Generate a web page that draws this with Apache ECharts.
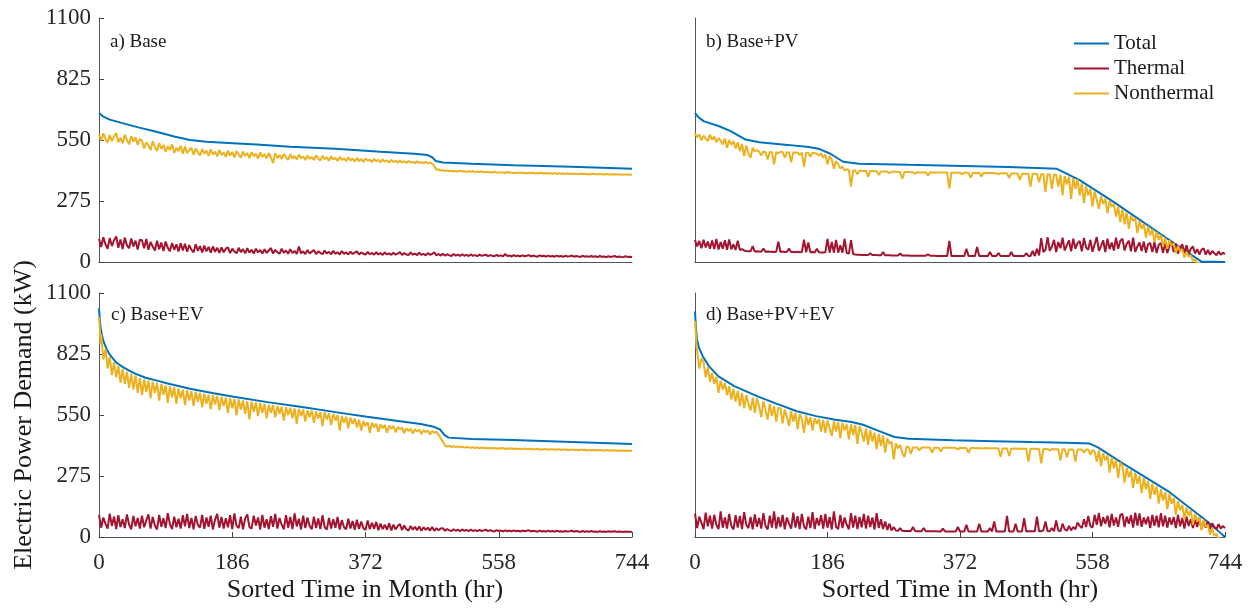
<!DOCTYPE html>
<html>
<head>
<meta charset="utf-8">
<script src="https://cdn.jsdelivr.net/npm/echarts@6/dist/echarts.min.js"></script>
<style>
html,body{margin:0;padding:0;background:#fff;}
#chart{width:1254px;height:609px;}
</style>
</head>
<body>
<div id="chart"></div>
<script>
// ---------------- DATA ----------------
const xTicks = [0, 186, 372, 558, 744];
const yTicks = [0, 275, 550, 825, 1100];
const seriesNames = ['Total', 'Thermal', 'Nonthermal'];
const panelLabels = ['a) Base', 'b) Base+PV', 'c) Base+EV', 'd) Base+PV+EV'];
const STEP = 3; // hours between samples of the noisy series

// Total demand, [hour, kW]
const aTotal = [[0,672],[6,655],[15,642],[34,625],[55,607],[80,587],[105,566],[127,550],[150,542],[174,538],[220,530],[267,520],[330,510],[393,497],[440,488],[459,482],[466,470],[470,455],[480,449],[520,443],[579,436],[660,429],[744,420]];
const bTotal = [[0,672],[4,655],[12,635],[33,613],[50,590],[71,552],[90,540],[130,528],[160,518],[175,509],[190,488],[208,452],[230,443],[300,438],[361,434],[440,428],[508,420],[540,369],[587,272],[625,189],[651,132],[680,68],[711,2],[744,0]];
const cTotal = [[0,1032],[1,985],[2,950],[3.6,918],[6,885],[8.4,865],[10.5,848],[15,822],[24.5,785],[34,765],[48,740],[65,718],[81,705],[94.5,693],[127,668],[160,648],[188,632],[235,608],[281,587],[330,563],[374,542],[420,522],[449,509],[467,497],[476,485],[482,460],[488,448],[520,442],[578,437],[660,428],[744,419]];
const dTotal = [[0,1017],[1,960],[2.7,890],[6,850],[11,814],[20,768],[33,724],[55,680],[88,634],[115,600],[143,567],[170,545],[197,529],[220,518],[236,506],[255,482],[280,451],[300,443],[362,436],[420,432],[472,428],[520,425],[554,421],[565,405],[600,333],[636,262],[665,205],[691,140],[713,86],[730,40],[744,0]];

// Noisy series sampled every STEP hours (0..744), 20 values per row = 60 h
const aNon = [
575,548,580,556,538,572,545,566,582,540,560,535,574,550,530,568,542,562,528,555,
548,512,540,525,505,545,518,500,536,510,528,496,522,505,530,492,515,500,524,488,
520,490,505,515,484,512,495,480,510,488,502,478,508,485,498,476,505,482,494,474,
502,480,496,472,500,485,470,498,478,492,468,495,476,488,466,494,474,486,467,492,
470,446,490,468,482,464,488,472,460,485,466,478,462,484,468,476,460,480,465,474,
460,481,466,458,478,463,472,456,476,462,470,455,474,460,468,454,472,458,466,453,
469,455,464,451,467,457,462,450,465,454,460,449,463,452,458,448,461,451,456,447,
458,449,454,446,456,448,452,445,454,447,450,444,452,446,448,443,432,416,418,412,
414,410,413,409,412,408,411,407,412,408,410,406,409,407,410,405,408,406,409,404,
407,404,406,403,407,402,405,403,404,401,406,402,404,400,403,401,404,400,402,399,
403,400,402,399,401,400,402,398,401,399,400,398,401,397,400,398,399,397,400,396,
399,397,398,396,399,397,398,395,397,396,398,395,397,396,396,394,397,395,396,394,
396,394,395,393,395,394,394,393,394];
const aTherm = [
105,68,112,80,60,108,72,98,115,64,102,58,110,75,62,106,70,96,56,100,
98,62,104,55,90,70,52,96,58,88,50,92,64,48,86,55,80,47,84,52,
82,46,76,55,44,80,50,72,43,74,48,68,42,70,46,64,41,66,44,60,
66,40,60,47,39,64,44,58,39,62,42,55,38,60,43,54,38,58,41,52,
63,38,55,44,37,60,41,52,37,58,40,50,36,70,39,48,36,54,38,47,
54,36,48,41,35,52,38,46,35,50,37,44,34,49,37,43,34,47,36,42,
48,34,43,37,33,46,35,41,33,44,34,40,32,43,34,39,32,42,33,38,
45,32,40,34,31,43,33,38,31,42,32,37,30,40,33,36,44,30,36,29,
37,28,35,30,27,36,29,33,27,35,28,32,27,34,28,31,26,33,28,30,
33,26,31,28,26,32,27,30,25,36,27,29,25,31,26,29,25,30,26,28,
31,25,29,26,24,30,26,28,24,29,25,27,24,29,25,27,23,28,25,26,
29,24,27,25,23,28,24,26,23,27,24,26,22,27,24,25,22,26,23,25,
27,22,25,23,22,26,23,24,23];
const bNon = [
580,562,576,548,570,555,545,574,552,565,540,558,548,530,556,515,550,528,545,512,
540,500,532,478,525,490,470,515,498,505,497,480,498,496,462,497,495,440,496,490,
497,496,470,495,494,450,495,493,494,482,493,430,493,492,475,492,491,488,480,490,
470,485,440,478,462,420,455,440,422,430,412,418,415,340,413,412,395,412,411,410,
411,385,410,410,409,409,392,408,408,408,407,400,407,407,407,406,406,375,406,406,
406,405,405,398,405,405,404,404,404,390,404,404,404,403,403,403,403,403,403,332,
403,402,402,402,402,395,402,402,402,380,402,401,401,401,385,401,401,401,401,401,
400,400,395,400,400,400,399,380,399,399,399,399,370,399,398,398,398,340,398,398,
397,360,397,396,316,396,395,330,395,392,340,394,300,388,350,384,285,378,330,372,
300,355,265,342,300,330,250,318,280,240,298,262,286,220,275,250,262,205,250,180,
238,170,225,150,210,185,198,130,185,150,172,110,160,120,148,90,135,100,122,70,
110,60,98,75,85,40,72,50,58,20,45,25,30,5,12,-8,-2,-20,-15,-30,
-28,-42,-38,-50,-48,-60,-58,-70,-68];
const bTherm = [
99,70,95,62,100,66,92,60,97,58,104,56,90,60,98,55,102,57,80,55,
96,54,58,52,50,49,48,72,47,48,47,46,60,46,47,46,46,45,46,91,
45,47,45,46,60,45,45,44,46,44,45,101,44,88,44,45,43,60,44,43,
43,44,104,42,90,42,100,42,75,42,104,40,38,99,36,34,33,33,32,32,
32,31,40,31,31,31,30,30,45,30,30,30,29,29,29,29,38,29,29,29,
29,28,28,28,28,28,28,28,28,35,28,28,28,27,27,27,27,27,27,95,
27,27,27,27,27,27,27,60,27,27,27,27,68,27,27,27,27,27,45,27,
27,27,40,27,27,27,27,27,45,27,27,27,27,27,27,40,27,27,50,27,
60,30,108,45,55,112,50,70,100,45,90,62,110,52,75,98,48,105,60,85,
95,48,108,65,55,100,46,80,112,50,72,98,45,105,58,88,52,110,60,95,
105,52,82,96,48,110,46,70,88,50,92,42,80,86,45,90,40,78,85,42,
85,40,72,90,45,82,38,65,80,40,75,36,60,70,38,58,34,55,62,33,
55,32,50,40,30,48,33,42,35];
const cNonHead = [[1,950],[2,870]];
const cNon = [
990,915,800,848,760,812,730,788,720,770,695,758,690,745,672,735,665,728,650,718,
640,710,655,705,625,700,650,695,615,690,640,684,605,680,630,675,600,670,625,664,
595,662,615,658,590,655,610,650,585,646,600,642,575,640,598,636,572,632,590,628,
560,626,580,622,548,620,575,616,555,612,530,610,565,606,545,604,560,600,535,596,
560,594,540,590,555,588,525,585,550,582,535,580,510,578,545,575,520,572,540,570,
515,566,535,563,500,562,530,557,505,555,525,550,480,546,515,542,490,538,510,534,
495,528,480,522,500,518,470,515,495,510,475,508,490,505,470,502,488,500,472,496,
485,494,468,490,478,488,466,486,475,484,464,482,472,480,462,478,470,474,462,445,
430,412,408,411,406,409,405,408,404,407,403,406,404,402,405,401,404,400,403,401,
402,399,401,400,402,398,400,399,401,397,399,398,400,396,399,397,398,396,399,395,
398,396,397,395,398,394,396,395,397,393,396,394,395,393,396,392,395,393,394,392,
394,392,393,391,394,392,393,390,392,391,393,390,392,391,391,389,392,390,391,389,
391,389,390,389,390,388,390,389,389];
const cTherm = [
100,42,88,60,38,105,50,92,36,98,45,80,40,102,55,35,95,48,86,38,
96,44,75,102,38,90,52,34,100,46,85,40,107,58,36,92,44,82,38,98,
48,104,40,86,35,95,55,42,100,37,88,46,96,34,78,104,42,90,38,85,
44,98,36,106,50,40,92,35,84,102,45,38,96,52,88,34,100,42,80,36,
94,46,104,38,86,55,35,98,42,90,36,106,48,82,34,96,40,88,50,35,
92,40,84,36,98,45,33,86,38,80,42,90,34,76,44,35,82,38,72,33,
78,36,70,40,32,75,35,64,38,68,31,60,36,55,33,62,30,56,34,50,
58,31,52,35,29,50,33,46,30,48,28,44,32,42,29,45,28,40,30,38,
40,28,36,30,27,35,28,33,26,34,28,32,26,33,27,31,26,32,27,30,
33,26,31,27,25,31,27,29,25,30,26,29,25,30,26,28,25,29,26,28,
30,25,28,26,24,29,25,27,24,28,25,27,24,28,25,26,24,27,25,26,
28,24,27,25,23,27,24,26,23,27,24,25,23,26,24,25,23,26,24,25,
26,23,25,24,23,25,24,24,23];
const dNonHead = [[1,930],[2,860]];
const dNon = [
975,840,760,805,790,720,765,700,740,690,722,650,705,665,695,640,680,620,668,610,
660,590,650,580,640,600,570,628,560,625,590,540,612,570,530,600,545,590,520,583,
580,512,575,540,500,568,520,560,485,555,530,470,548,505,540,480,535,510,532,475,
528,470,525,490,455,522,475,518,445,515,480,508,440,508,460,505,420,500,470,430,
490,415,482,430,470,395,465,410,458,380,445,420,430,350,422,400,415,380,360,408,
405,375,404,403,404,390,403,403,404,403,402,380,403,402,403,385,402,402,403,402,
402,402,401,395,402,401,401,401,380,401,401,400,401,400,400,400,401,400,400,400,
400,400,399,362,399,399,399,365,399,398,399,398,398,398,398,398,340,398,398,398,
397,397,332,397,397,396,390,397,396,396,396,345,396,396,360,395,395,395,340,395,
394,395,380,394,394,370,393,385,340,390,320,378,345,368,290,360,310,348,265,335,
322,245,312,270,300,220,290,240,275,198,266,215,252,172,242,190,228,150,215,165,
202,125,195,150,175,100,162,120,145,80,132,95,120,55,105,70,90,30,78,45,
55,10,40,5,15,-10,-5,-25,-30];
const dTherm = [
105,40,92,65,35,110,48,96,38,100,55,36,115,42,88,38,104,50,34,98,
42,95,36,112,55,40,90,35,102,46,86,38,108,50,34,96,42,116,38,90,
45,100,35,88,60,38,110,42,94,36,104,48,34,92,40,112,36,86,52,98,
38,104,42,90,34,116,46,36,100,40,88,55,35,108,42,96,36,90,44,104,
38,96,45,88,34,108,40,80,36,70,32,60,30,45,29,28,40,28,27,27,
27,27,45,27,26,26,26,40,26,26,26,26,26,26,25,25,38,25,25,25,
25,25,25,45,25,25,25,55,25,25,25,25,25,60,25,25,25,25,40,25,
70,25,25,25,25,25,95,25,25,25,60,25,25,25,85,25,26,26,26,26,
92,26,26,30,70,26,26,40,26,75,30,26,60,35,28,50,30,45,35,65,
50,40,80,45,95,50,42,100,55,108,48,90,60,96,44,104,52,88,46,100,
104,45,92,60,98,42,110,52,106,46,88,58,92,40,100,50,96,44,108,48,
96,42,88,55,90,40,100,48,86,38,92,50,80,40,78,45,88,36,70,42,
70,34,62,45,36,58,38,50,40];

// ---------------- CHART ----------------
const FONT = "'Liberation Serif', 'Times New Roman', serif";
const COLORS = ['#0072BD', '#A2142F', '#EDB120'];

function stepPairs(vals, head) {
  const out = vals.map((v, i) => [i * STEP, v]);
  if (head) out.splice(1, 0, ...head);
  return out;
}

const panels = [
  { total: aTotal, therm: stepPairs(aTherm), non: stepPairs(aNon) },
  { total: bTotal, therm: stepPairs(bTherm), non: stepPairs(bNon) },
  { total: cTotal, therm: stepPairs(cTherm), non: stepPairs(cNon, cNonHead) },
  { total: dTotal, therm: stepPairs(dTherm), non: stepPairs(dNon, dNonHead) }
];

const grids = [
  { left: 99, top: 18, width: 533, height: 244 },
  { left: 695, top: 18, width: 530, height: 244 },
  { left: 99, top: 293, width: 533, height: 244 },
  { left: 695, top: 293, width: 530, height: 244 }
];

const axisLineStyle = { color: '#555', width: 1 };
const xAxes = grids.map((g, i) => {
  const bottom = i >= 2;
  return {
    gridIndex: i, type: 'value', min: xTicks[0], max: xTicks[xTicks.length - 1],
    interval: xTicks[1] - xTicks[0],
    axisLine: { show: true, onZero: false, lineStyle: axisLineStyle },
    axisTick: { show: bottom, inside: true, length: 5, lineStyle: { color: '#444' } },
    axisLabel: { show: bottom, fontFamily: FONT, fontSize: 23, color: '#262626', margin: 14,
                 formatter: v => String(v) },
    splitLine: { show: false }
  };
});
const yAxes = grids.map((g, i) => {
  const left = (i % 2) === 0;
  return {
    gridIndex: i, type: 'value', min: yTicks[0], max: yTicks[yTicks.length - 1],
    interval: yTicks[1] - yTicks[0],
    axisLine: { show: true, lineStyle: axisLineStyle },
    axisTick: { show: left, inside: true, length: 5, lineStyle: { color: '#444' } },
    axisLabel: { show: left, fontFamily: FONT, fontSize: 23, color: '#262626', margin: 8,
                 formatter: v => String(v) },
    splitLine: { show: false }
  };
});

const series = [];
panels.forEach((p, i) => {
  [p.total, p.therm, p.non].forEach((d, k) => {
    series.push({
      name: seriesNames[k], type: 'line', xAxisIndex: i, yAxisIndex: i,
      data: d, showSymbol: false, symbol: 'none', smooth: false,
      lineStyle: { color: COLORS[k], width: 2 },
      itemStyle: { color: COLORS[k] },
      emphasis: { disabled: true }, silent: true, clip: true
    });
  });
});

const labelPos = [[110, 42], [706, 42], [111, 315], [706, 315]];
const graphics = panelLabels.map((t, i) => ({
  type: 'text', x: labelPos[i][0], y: labelPos[i][1],
  style: { text: t, font: "19px " + FONT, fill: '#1a1a1a', textVerticalAlign: 'middle' }
}));
graphics.push({
  type: 'text', x: 365, y: 590,
  style: { text: 'Sorted Time in Month (hr)', font: "26px " + FONT, fill: '#1a1a1a', textAlign: 'center', textVerticalAlign: 'middle' }
});
graphics.push({
  type: 'text', x: 960, y: 590,
  style: { text: 'Sorted Time in Month (hr)', font: "26px " + FONT, fill: '#1a1a1a', textAlign: 'center', textVerticalAlign: 'middle' }
});
graphics.push({
  type: 'text', x: 24, y: 415, rotation: Math.PI / 2,
  style: { text: 'Electric Power Demand (kW)', font: "26px " + FONT, fill: '#1a1a1a', textAlign: 'center', textVerticalAlign: 'middle' }
});

const chart = echarts.init(document.getElementById('chart'), null, { renderer: 'canvas' });
chart.setOption({
  animation: false,
  backgroundColor: '#fff',
  grid: grids,
  xAxis: xAxes,
  yAxis: yAxes,
  legend: {
    data: seriesNames, orient: 'vertical', left: 1069, top: 26,
    icon: 'rect', itemWidth: 35, itemHeight: 2, itemGap: 0,
    textStyle: { fontFamily: FONT, fontSize: 21, color: '#1a1a1a', lineHeight: 25 },
    selectedMode: false
  },
  graphic: graphics,
  series: series
});
</script>
</body>
</html>
